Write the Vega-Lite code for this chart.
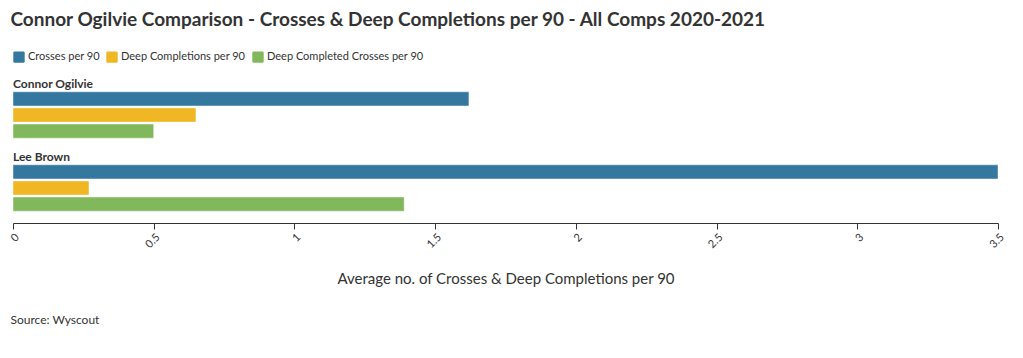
{
  "$schema": "https://vega.github.io/schema/vega-lite/v6.json",
  "background": "white",
  "padding": {"left": 8, "top": 11, "right": 10, "bottom": 5},
  "config": {
    "font": "Lato",
    "view": {"stroke": null},
    "title": {"color": "#333333"}
  },
  "title": {
    "text": "Connor Ogilvie Comparison - Crosses & Deep Completions per 90 - All Comps 2020-2021",
    "anchor": "start",
    "fontSize": 19,
    "fontWeight": "bold",
    "color": "#333333",
    "offset": 21,
    "dx": 2
  },
  "data": {
    "values": [
      {"player": "Connor Ogilvie", "metric": "Crosses per 90", "value": 1.62},
      {"player": "Connor Ogilvie", "metric": "Deep Completions per 90", "value": 0.65},
      {"player": "Connor Ogilvie", "metric": "Deep Completed Crosses per 90", "value": 0.5},
      {"player": "Lee Brown", "metric": "Crosses per 90", "value": 3.5},
      {"player": "Lee Brown", "metric": "Deep Completions per 90", "value": 0.27},
      {"player": "Lee Brown", "metric": "Deep Completed Crosses per 90", "value": 1.39}
    ]
  },
  "vconcat": [
    {
      "title": {
        "text": "Source: Wyscout",
        "orient": "bottom",
        "anchor": "start",
        "fontSize": 12,
        "fontWeight": "normal",
        "color": "#333333",
        "offset": 28,
        "dx": 2
      },
      "facet": {
        "row": {
          "field": "player",
          "type": "nominal",
          "sort": ["Connor Ogilvie", "Lee Brown"],
          "title": null,
          "header": {
            "labelOrient": "top",
            "labelAnchor": "start",
            "labelAngle": 0,
            "labelAlign": "left",
            "labelFontWeight": "bold",
            "labelFontSize": 12,
            "labelColor": "#333333",
            "labelPadding": -12
          }
        }
      },
      "spacing": 12,
      "spec": {
        "width": 985,
        "height": 48,
        "mark": {"type": "bar", "stroke": "#ffffff", "strokeOpacity": 0.45, "strokeWidth": 1},
        "encoding": {
          "y": {
            "field": "metric",
            "type": "nominal",
            "sort": ["Crosses per 90", "Deep Completions per 90", "Deep Completed Crosses per 90"],
            "axis": null,
            "scale": {"paddingInner": 0.12, "paddingOuter": 0.05}
          },
          "x": {
            "field": "value",
            "type": "quantitative",
            "scale": {"domain": [0, 3.5], "nice": false},
            "axis": {
              "title": "Average no. of Crosses & Deep Completions per 90",
              "titleFontSize": 15,
              "titleFontWeight": "normal",
              "titleColor": "#333333",
              "titlePadding": 22,
              "values": [0, 0.5, 1, 1.5, 2, 2.5, 3, 3.5],
              "format": "~g",
              "labelAngle": -45,
              "labelFontSize": 11,
              "labelColor": "#333333",
              "labelFlush": false,
              "labelOverlap": false,
              "grid": false,
              "domainColor": "#333333",
              "tickColor": "#333333",
              "tickSize": 6,
              "offset": 11
            }
          },
          "color": {
            "field": "metric",
            "type": "nominal",
            "sort": ["Crosses per 90", "Deep Completions per 90", "Deep Completed Crosses per 90"],
            "scale": {
              "domain": ["Crosses per 90", "Deep Completions per 90", "Deep Completed Crosses per 90"],
              "range": ["#34779f", "#f0b623", "#81b85c"]
            },
            "legend": {
              "title": null,
              "orient": "top",
              "direction": "horizontal",
              "symbolType": "M-0.75,-1L0.75,-1Q1,-1 1,-0.75L1,0.75Q1,1 0.75,1L-0.75,1Q-1,1 -1,0.75L-1,-0.75Q-1,-1 -0.75,-1Z",
              "symbolSize": 130,
              "symbolOpacity": 1,
              "symbolStrokeWidth": 0,
              "labelFontSize": 11,
              "labelColor": "#333333",
              "columnPadding": 6,
              "labelOffset": 3,
              "offset": 15
            }
          }
        }
      }
    }
  ]
}
